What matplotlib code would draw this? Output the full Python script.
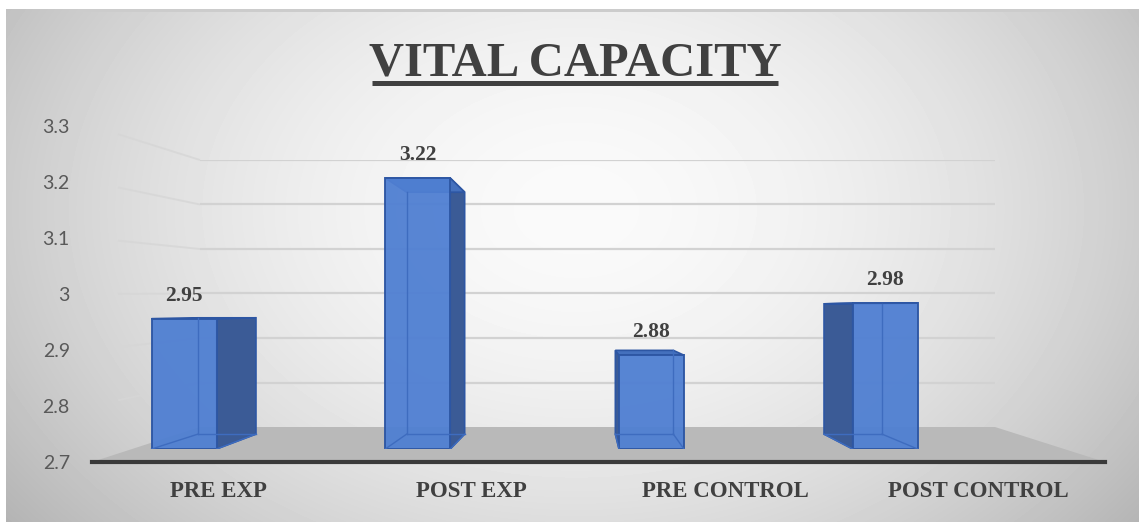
import numpy as np
import matplotlib
matplotlib.use("Agg")
import matplotlib.pyplot as plt
from matplotlib.patches import Polygon

# ---- data ----
categories = ["PRE EXP", "POST EXP", "PRE CONTROL", "POST CONTROL"]
values = [2.95, 3.22, 2.88, 2.98]
y_ticks = [2.7, 2.8, 2.9, 3.0, 3.1, 3.2, 3.3]
y_tick_labels = ["2.7", "2.8", "2.9", "3", "3.1", "3.2", "3.3"]
title = "VITAL CAPACITY"

W, H = 1139, 522
fig = plt.figure(figsize=(W / 100, H / 100), dpi=100)
fig.patch.set_facecolor("white")


def rect(l, t, r, b):
    return [l / W, 1 - b / H, (r - l) / W, (b - t) / H]


TXT = "#404040"
SERIF = "Liberation Serif"

# ---- background gradient ----
ax_bg = fig.add_axes(rect(6, 9, W, H), zorder=0)
yy, xx = np.mgrid[0:H - 9, 0:W - 6]
rx = (xx - 570) / 600.0
ry = (yy - 200) / 430.0
r2 = rx ** 2 + ry ** 2
grad = np.clip(0.98 - 0.20 * r2 ** 0.9, 0, 1)
grad[:3, :] = np.minimum(grad[:3, :], 0.80)
ax_bg.imshow(grad, cmap="gray", vmin=0, vmax=1, aspect="auto",
             interpolation="bilinear")
ax_bg.axis("off")

# ---- back wall gridlines ----
ymin, ymax = y_ticks[0], y_ticks[-1]
ax_back = fig.add_axes(rect(200, 160, 995, 427), zorder=1)
ax_back.set_xlim(0, 1)
ax_back.set_ylim(ymin, ymax)
ax_back.patch.set_alpha(0)
ax_back.axis("off")
for t in y_ticks[1:]:
    ax_back.axhline(t, color="#d2d2d2", lw=1.6)

# ---- scene (floor + side wall lines), pixel coordinates ----
ax_sc = fig.add_axes([0, 0, 1, 1], zorder=2)
ax_sc.set_xlim(0, W)
ax_sc.set_ylim(H, 0)
ax_sc.patch.set_alpha(0)
ax_sc.axis("off")
front_l, front_r, front_y = 92, 1105, 462
back_l, back_r, back_y = 200, 995, 427
ax_sc.add_patch(Polygon([(front_l, front_y), (front_r, front_y),
                         (back_r, back_y), (back_l, back_y)],
                        closed=True, facecolor="#b9b9b9", edgecolor="none"))
for t in y_ticks[1:]:
    yf = front_y - (t - ymin) * 560
    yb = back_y - (t - ymin) * 445
    x0 = 118
    y0 = yf + (yb - yf) * (x0 - front_l) / (back_l - front_l)
    ax_sc.plot([x0, back_l], [y0, yb], color="#d6d6d6", lw=1.4, alpha=0.8,
               solid_capstyle="butt")

# ---- front axes: ticks, categories, axis line ----
ax_fr = fig.add_axes(rect(front_l, 126, front_r, front_y), zorder=3)
ax_fr.set_xlim(-0.5, len(categories) - 0.5)
ax_fr.set_ylim(ymin, ymax)
ax_fr.patch.set_alpha(0)
for s in ["top", "right", "left"]:
    ax_fr.spines[s].set_visible(False)
ax_fr.spines["bottom"].set_color("#3a3a3a")
ax_fr.spines["bottom"].set_linewidth(3)
ax_fr.set_yticks(y_ticks)
ax_fr.set_yticklabels(y_tick_labels, fontsize=14, color="#595959",
                      family="Lato")
ax_fr.set_xticks(range(len(categories)))
ax_fr.set_xticklabels(categories, fontsize=16.5, fontweight="bold",
                      color=TXT, family=SERIF)
ax_fr.tick_params(axis="y", length=0, pad=16)
ax_fr.tick_params(axis="x", length=0, pad=14)

# ---- bars (mid-depth plane) ----
ax_b = fig.add_axes(rect(67.2, 136.4, 1002.0, 449), zorder=4)
ax_b.set_xlim(-0.5, len(categories) - 0.5)
ax_b.set_ylim(ymin, ymax)
ax_b.patch.set_alpha(0)
ax_b.axis("off")

x = np.arange(len(categories))
bw = 0.278
front_col = "#4f7fd2"
edge_col = "#2d56a3"
side_col = "#3b5b96"
inner_col = "#3e6cbf"
# vanishing point (data coords of the bar plane) and depth scale
vx, vy, sc = 1.716, 2.967, 0.893


def back(px, py):
    return vx + sc * (px - vx), vy + sc * (py - vy)


for xi, v in zip(x, values):
    l, r = xi - bw / 2, xi + bw / 2
    ex = r if xi < vx else l
    bb = back(ex, ymin)
    bt = back(ex, v)
    ax_b.add_patch(Polygon([(ex, ymin), (ex, v), bt, bb], closed=True,
                           facecolor=side_col, edgecolor=edge_col, lw=1.2,
                           zorder=2))
    tl = back(l, v)
    tr = back(r, v)
    ax_b.add_patch(Polygon([(l, v), (r, v), tr, tl], closed=True,
                           facecolor="#4470bd", edgecolor=edge_col, lw=1.2,
                           zorder=2))

ax_b.bar(x, np.array(values) - ymin, bottom=ymin, width=bw,
         color=front_col, edgecolor=edge_col, linewidth=1.4, zorder=3,
         alpha=0.95)

# see-through back edges
for xi, v in zip(x, values):
    l, r = xi - bw / 2, xi + bw / 2
    bl, br = back(l, ymin), back(r, ymin)
    tl, tr = back(l, v), back(r, v)
    if xi < vx:
        ax_b.plot([bl[0], tl[0]], [bl[1], tl[1]], color=inner_col, lw=1.0, zorder=4)
    else:
        ax_b.plot([br[0], tr[0]], [br[1], tr[1]], color=inner_col, lw=1.0, zorder=4)
    ax_b.plot([bl[0], br[0]], [bl[1], br[1]], color=inner_col, lw=1.0, zorder=4)
    ax_b.plot([l, bl[0]], [ymin, bl[1]], color=inner_col, lw=1.0, zorder=4)
    ax_b.plot([r, br[0]], [ymin, br[1]], color=inner_col, lw=1.0, zorder=4)

for xi, v in zip(x, values):
    ax_b.annotate(f"{v:.2f}", (xi, v), xytext=(0, 13), textcoords="offset points",
                  ha="center", va="baseline", fontsize=15.5, fontweight="bold",
                  color=TXT, family=SERIF, zorder=6)

# ---- title ----
fig.text(575 / W, 1 - 76 / H, title, ha="center", va="baseline", fontsize=35,
         fontweight="bold", color=TXT, family=SERIF, zorder=10)
fig.add_artist(plt.Line2D([372 / W, 778 / W], [1 - 82.5 / H, 1 - 82.5 / H],
                          transform=fig.transFigure, color=TXT, lw=3.6,
                          solid_capstyle="butt", zorder=10))

fig.savefig("out.png", dpi=100)
